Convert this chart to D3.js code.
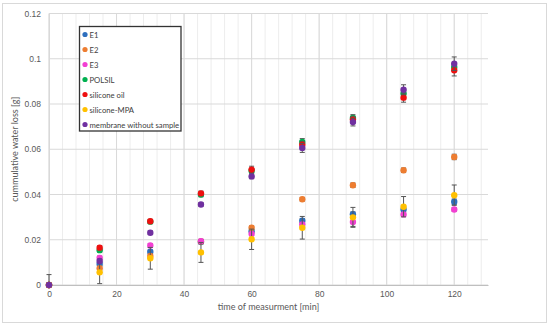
<!DOCTYPE html>
<html><head><meta charset="utf-8">
<script src="https://cdn.jsdelivr.net/npm/d3@7"></script>
<style>body{margin:0;background:#fff;}svg{display:block;font-family:Lato,"Open Sans",sans-serif;}</style>
</head><body><svg id="c" width="550" height="326"></svg>
<script>
const times = [0, 15, 30, 45, 60, 75, 90, 105, 120];
const seriesNames = ["E1", "E2", "E3", "POLSIL", "silicone oil", "silicone-MPA", "membrane without sample"];
const seriesColors = ["#2E6FBD", "#ED7D31", "#F23FD2", "#00B050", "#EE1010", "#FFC000", "#7030A0"];
const E1 = [0, 0.0093, 0.0147, 0.019, 0.0238, 0.0284, 0.0313, 0.0334, 0.0368];
const E2 = [0, 0.0074, 0.0128, 0.0192, 0.0253, 0.0379, 0.0441, 0.0507, 0.0566];
const E3 = [0, 0.0120, 0.0175, 0.0194, 0.0226, 0.0268, 0.0279, 0.0312, 0.0334];
const POLSIL = [0, 0.0154, 0.0280, 0.0400, 0.0505, 0.0632, 0.0738, 0.0846, 0.0963];
const siliconeOil = [0, 0.0165, 0.0282, 0.0405, 0.0510, 0.0620, 0.0731, 0.0828, 0.0949];
const siliconeMPA = [0, 0.0056, 0.0118, 0.0144, 0.0202, 0.0253, 0.0299, 0.0346, 0.0397];
const membrane = [0, 0.0106, 0.0231, 0.0356, 0.0480, 0.0606, 0.0720, 0.0863, 0.0978];
const errE1 = [0, 0.0008, 0.0008, 0.0008, 0.0008, 0.0010, 0.0010, 0.0010, 0.0012];
const errE2 = [0, 0.0008, 0.0008, 0.0008, 0.0008, 0.0008, 0.0010, 0.0010, 0.0012];
const errE3 = [0, 0.0008, 0.0008, 0.0008, 0.0008, 0.0008, 0.0020, 0.0008, 0.0008];
const errPOLSIL = [0, 0.0008, 0.0008, 0.0010, 0.0010, 0.0015, 0.0015, 0.0015, 0.0015];
const errOil = [0, 0.0008, 0.0008, 0.0010, 0.0015, 0.0015, 0.0015, 0.0020, 0.0025];
const errMPA = [0.0046, 0.0050, 0.0048, 0.0044, 0.0045, 0.0050, 0.0044, 0.0045, 0.0045];
const errMembrane = [0, 0.0008, 0.0008, 0.0008, 0.0010, 0.0020, 0.0017, 0.0022, 0.0030];
const xTicks = [0, 20, 40, 60, 80, 100, 120];
const yTicks = [0, 0.02, 0.04, 0.06, 0.08, 0.1, 0.12];
const xTitle = "time of measurment [min]";
const yTitle = "cummulative water loss [g]";

const seriesValues = [E1, E2, E3, POLSIL, siliconeOil, siliconeMPA, membrane];
const seriesErrors = [errE1, errE2, errE3, errPOLSIL, errOil, errMPA, errMembrane];

const svg = d3.select("#c");
svg.append("rect").attr("x", 2.5).attr("y", 3.5).attr("width", 544).attr("height", 319)
  .attr("fill", "#fff").attr("stroke", "#D9D9D9");

const x = d3.scaleLinear().domain([0, 130]).range([49, 488]);
const y = d3.scaleLinear().domain([0, 0.12]).range([285, 13.5]);

const minor = d3.range(0, 131, 4);
svg.append("g").selectAll("line").data(minor).join("line")
  .attr("x1", d => x(d)).attr("x2", d => x(d)).attr("y1", y(0)).attr("y2", y(0.12))
  .attr("stroke", "#EDEDED").attr("stroke-width", 1);
svg.append("g").selectAll("line").data(xTicks).join("line")
  .attr("x1", d => x(d)).attr("x2", d => x(d)).attr("y1", y(0)).attr("y2", y(0.12))
  .attr("stroke", "#D9D9D9").attr("stroke-width", 1);
svg.append("g").selectAll("line").data(yTicks).join("line")
  .attr("x1", x(0)).attr("x2", x(130)).attr("y1", d => y(d)).attr("y2", d => y(d))
  .attr("stroke", "#D9D9D9").attr("stroke-width", 1);

const xAxis = svg.append("g").attr("transform", `translate(0,${y(0)})`)
  .call(d3.axisBottom(x).tickValues(xTicks).tickSize(0).tickPadding(6).tickFormat(d3.format("d")));
xAxis.select(".domain").attr("stroke", "#BFBFBF");
xAxis.selectAll("text").attr("fill", "#595959").attr("font-size", "8.5px");
const yAxis = svg.append("g").attr("transform", `translate(${x(0)},0)`)
  .call(d3.axisLeft(y).tickValues(yTicks).tickSize(0).tickPadding(8).tickFormat(d => d === 0 ? "0" : String(+d.toFixed(2))));
yAxis.select(".domain").attr("stroke", "#D9D9D9");
yAxis.selectAll("text").attr("fill", "#595959").attr("font-size", "8.5px");

svg.append("text").attr("x", (x(0) + x(130)) / 2).attr("y", 310).attr("text-anchor", "middle")
  .attr("fill", "#595959").attr("font-size", "9px").text(xTitle);
svg.append("text").attr("transform", `translate(18,${(y(0) + y(0.12)) / 2}) rotate(-90)`)
  .attr("text-anchor", "middle").attr("fill", "#595959").attr("font-size", "9px").text(yTitle);

const plot = svg.append("g");
seriesValues.forEach((vals, si) => {
  const g = plot.append("g");
  const pts = times.map((t, i) => ({t, v: vals[i], e: seriesErrors[si][i]})).filter(p => p.e > 0);
  pts.forEach(p => {
    const lo = Math.max(0, p.v - p.e), hi = p.v + p.e;
    g.append("line").attr("x1", x(p.t)).attr("x2", x(p.t)).attr("y1", y(lo)).attr("y2", y(hi))
      .attr("stroke", "#555").attr("stroke-width", 1);
    g.append("line").attr("x1", x(p.t) - 2.5).attr("x2", x(p.t) + 2.5).attr("y1", y(hi)).attr("y2", y(hi))
      .attr("stroke", "#555").attr("stroke-width", 1);
    if (p.v - p.e >= 0) g.append("line").attr("x1", x(p.t) - 2.5).attr("x2", x(p.t) + 2.5).attr("y1", y(lo)).attr("y2", y(lo))
      .attr("stroke", "#555").attr("stroke-width", 1);
  });
  g.selectAll("circle").data(times.map((t, i) => ({t, v: vals[i]}))).join("circle")
    .attr("cx", d => x(d.t)).attr("cy", d => y(d.v)).attr("r", 3.2)
    .attr("fill", seriesColors[si]);
});

const lg = svg.append("g");
lg.append("rect").attr("x", 79.5).attr("y", 26.5).attr("width", 101.5).attr("height", 104.5)
  .attr("fill", "#fff").attr("stroke", "#333").attr("stroke-width", 1.3);
seriesNames.forEach((n, i) => {
  const yy = 34.5 + i * 15;
  lg.append("circle").attr("cx", 85).attr("cy", yy).attr("r", 2.6).attr("fill", seriesColors[i]);
  lg.append("text").attr("x", 89.5).attr("y", yy + 3).attr("font-size", "7.7px").attr("fill", "#404040").text(n);
});
</script></body></html>
